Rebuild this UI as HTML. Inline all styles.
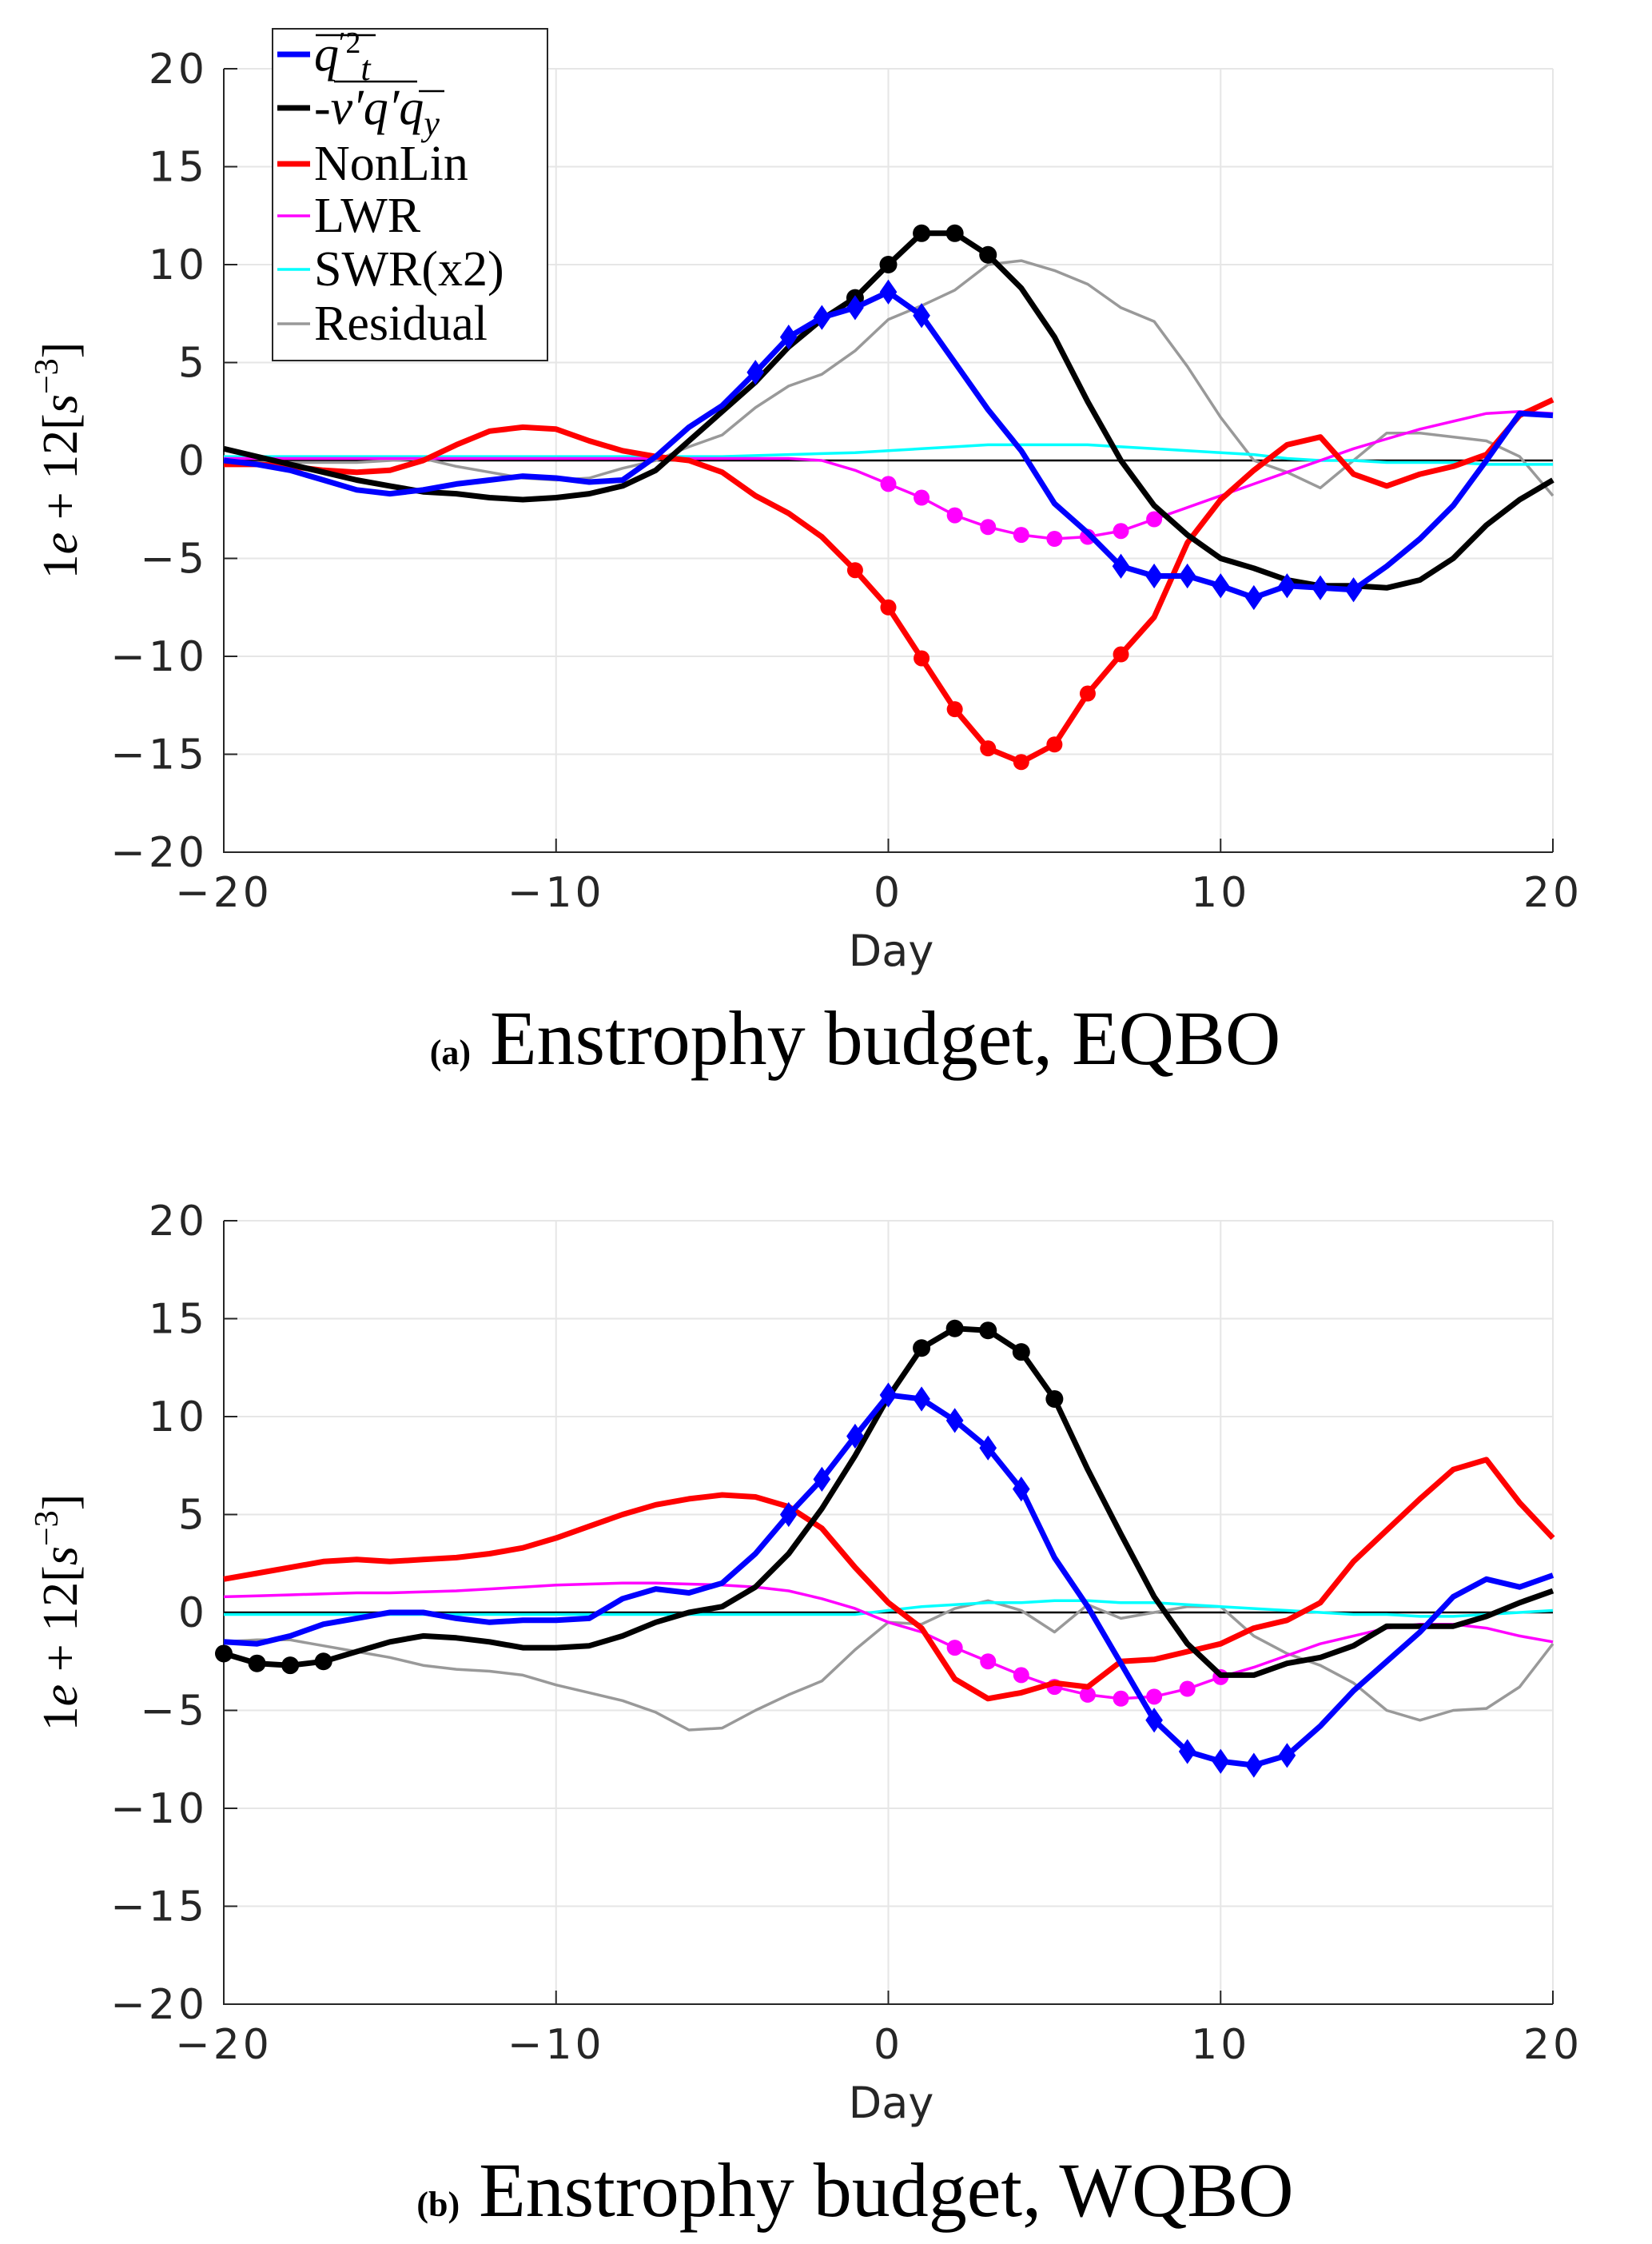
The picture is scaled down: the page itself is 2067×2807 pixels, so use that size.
<!DOCTYPE html>
<html><head><meta charset="utf-8"><style>
html,body{margin:0;padding:0;background:#fff;}
svg{display:block;}
.tick{font-family:"DejaVu Sans","Liberation Sans",sans-serif;font-size:52px;fill:#262626;letter-spacing:4px;}
.lab{font-family:"DejaVu Sans","Liberation Sans",sans-serif;font-size:54px;fill:#262626;}
.ser{font-family:"Liberation Serif","DejaVu Serif",serif;fill:#000;}
</style></head><body>
<svg id="chart" width="2067" height="2807" viewBox="0 0 2067 2807" xmlns="http://www.w3.org/2000/svg"></svg>
<script>
const days = [-20,-19,-18,-17,-16,-15,-14,-13,-12,-11,-10,-9,-8,-7,-6,-5,-4,-3,-2,-1,0,1,2,3,4,5,6,7,8,9,10,11,12,13,14,15,16,17,18,19,20];
const xTicks = [-20,-10,0,10,20];
const yTicks = [-20,-15,-10,-5,0,5,10,15,20];
// Panel (a) EQBO
const aTend = [0,-0.2,-0.5,-1.0,-1.5,-1.7,-1.5,-1.2,-1.0,-0.8,-0.9,-1.1,-1.0,0.2,1.7,2.8,4.5,6.3,7.3,7.8,8.6,7.4,5.0,2.6,0.5,-2.2,-3.7,-5.4,-5.9,-5.9,-6.4,-7.0,-6.4,-6.5,-6.6,-5.4,-4.0,-2.3,0,2.4,2.3];
const aFlux = [0.6,0.2,-0.2,-0.6,-1.0,-1.3,-1.6,-1.7,-1.9,-2.0,-1.9,-1.7,-1.3,-0.5,1.0,2.5,4.0,5.8,7.2,8.3,10.0,11.6,11.6,10.5,8.8,6.3,3.0,0,-2.3,-3.8,-5.0,-5.5,-6.1,-6.4,-6.4,-6.5,-6.1,-5.0,-3.3,-2.0,-1.0];
const aNonLin = [-0.2,-0.2,-0.3,-0.5,-0.6,-0.5,0,0.8,1.5,1.7,1.6,1.0,0.5,0.2,0,-0.6,-1.8,-2.7,-3.9,-5.6,-7.5,-10.1,-12.7,-14.7,-15.4,-14.5,-11.9,-9.9,-8.0,-4.2,-2.0,-0.5,0.8,1.2,-0.7,-1.3,-0.7,-0.3,0.3,2.3,3.1];
const aLWR = [0.1,0.1,0.1,0.1,0.1,0.1,0.1,0.1,0.1,0.1,0.1,0.1,0.1,0.1,0.1,0.1,0.1,0.1,0,-0.5,-1.2,-1.9,-2.8,-3.4,-3.8,-4.0,-3.9,-3.6,-3.0,-2.4,-1.8,-1.2,-0.6,0,0.6,1.1,1.6,2.0,2.4,2.5,2.4];
const aSWR = [0.2,0.2,0.2,0.2,0.2,0.2,0.2,0.2,0.2,0.2,0.2,0.2,0.2,0.2,0.2,0.2,0.25,0.3,0.35,0.4,0.5,0.6,0.7,0.8,0.8,0.8,0.8,0.7,0.6,0.5,0.4,0.3,0.1,0,0,-0.1,-0.1,-0.1,-0.2,-0.2,-0.2];
const aResid = [-0.1,-0.1,-0.1,-0.1,-0.1,0,0.1,-0.3,-0.6,-0.9,-1.0,-0.9,-0.4,0,0.7,1.3,2.7,3.8,4.4,5.6,7.2,7.9,8.7,10.0,10.2,9.7,9.0,7.8,7.1,4.8,2.2,0,-0.6,-1.4,0,1.4,1.4,1.2,1.0,0.2,-1.8];
// Panel (b) WQBO
const bTend = [-1.5,-1.6,-1.2,-0.6,-0.3,0,0,-0.3,-0.5,-0.4,-0.4,-0.3,0.7,1.2,1.0,1.5,3.0,5.0,6.8,9.0,11.1,10.9,9.8,8.4,6.3,2.8,0.3,-2.6,-5.5,-7.1,-7.6,-7.8,-7.3,-5.8,-4.0,-2.5,-1.0,0.8,1.7,1.3,1.9];
const bFlux = [-2.1,-2.6,-2.7,-2.5,-2.0,-1.5,-1.2,-1.3,-1.5,-1.8,-1.8,-1.7,-1.2,-0.5,0,0.3,1.3,3.0,5.3,8.0,11.0,13.5,14.5,14.4,13.3,10.9,7.3,4.0,0.8,-1.6,-3.2,-3.2,-2.6,-2.3,-1.7,-0.7,-0.7,-0.7,-0.2,0.5,1.1];
const bNonLin = [1.7,2.0,2.3,2.6,2.7,2.6,2.7,2.8,3.0,3.3,3.8,4.4,5.0,5.5,5.8,6.0,5.9,5.4,4.3,2.3,0.5,-0.8,-3.4,-4.4,-4.1,-3.6,-3.8,-2.5,-2.4,-2.0,-1.6,-0.8,-0.4,0.5,2.6,4.2,5.8,7.3,7.8,5.6,3.8];
const bLWR = [0.8,0.85,0.9,0.95,1.0,1.0,1.05,1.1,1.2,1.3,1.4,1.45,1.5,1.5,1.45,1.4,1.3,1.1,0.7,0.2,-0.5,-1.0,-1.8,-2.5,-3.2,-3.8,-4.2,-4.4,-4.3,-3.9,-3.3,-2.8,-2.2,-1.6,-1.2,-0.8,-0.6,-0.6,-0.8,-1.2,-1.5];
const bSWR = [-0.1,-0.1,-0.1,-0.1,-0.1,-0.1,-0.1,-0.1,-0.1,-0.1,-0.1,-0.1,-0.1,-0.1,-0.1,-0.1,-0.1,-0.1,-0.1,-0.1,0.1,0.3,0.4,0.5,0.5,0.6,0.6,0.5,0.5,0.4,0.3,0.2,0.1,0,-0.1,-0.1,-0.2,-0.2,-0.1,0,0.1];
const bResid = [-1.5,-1.4,-1.4,-1.7,-2.0,-2.3,-2.7,-2.9,-3.0,-3.2,-3.7,-4.1,-4.5,-5.1,-6.0,-5.9,-5.0,-4.2,-3.5,-1.9,-0.5,-0.6,0.2,0.6,0.1,-1.0,0.4,-0.3,0,0.3,0.3,-1.2,-2.1,-2.7,-3.6,-5.0,-5.5,-5.0,-4.9,-3.8,-1.6];
// marker day lists
const aTendMk=[-4,-3,-2,-1,0,1,7,8,9,10,11,12,13,14];
const aFluxMk=[-1,0,1,2,3];
const aNonMk=[-1,0,1,2,3,4,5,6,7];
const aLwrMk=[0,1,2,3,4,5,6,7,8];
const bTendMk=[-3,-2,-1,0,1,2,3,4,8,9,10,11,12];
const bFluxMk=[-20,-19,-18,-17,1,2,3,4,5];
const bLwrMk=[2,3,4,5,6,7,8,9,10];

const NS="http://www.w3.org/2000/svg";
const svg=document.getElementById('chart');
function mk(tag,attrs,parent){const e=document.createElementNS(NS,tag);for(const k in attrs)e.setAttribute(k,attrs[k]);(parent||svg).appendChild(e);return e;}
const X0=280,X1=1943,PH=980;
function xs(d){return X0+(d+20)/40*(X1-X0);}

function panel(top,series,pname,caption,capLetter){
  const g=mk('g',{});
  
  
  const Y0=top,Y1=top+PH;
  const ys=v=>Y0+(20-v)/40*(Y1-Y0);
  xTicks.forEach(t=>{const l=mk('line',{x1:xs(t),x2:xs(t),y1:Y0,y2:Y1,stroke:'#e6e6e6','stroke-width':2},g);
    });
  yTicks.forEach(t=>{const l=mk('line',{x1:X0,x2:X1,y1:ys(t),y2:ys(t),stroke:'#e6e6e6','stroke-width':2},g);
    });
  const ax=mk('path',{d:`M${X0},${Y0} V${Y1} H${X1}`,fill:'none',stroke:'#262626','stroke-width':2},g);
  
  xTicks.forEach(t=>{mk('line',{x1:xs(t),x2:xs(t),y1:Y1,y2:Y1-17,stroke:'#262626','stroke-width':2},g);
    const tx=mk('text',{x:xs(t),y:Y1+68,'text-anchor':'middle',class:'tick'},g);tx.textContent=String(t).replace('-','\u2212');
    });
  yTicks.forEach(t=>{mk('line',{x1:X0,x2:X0+17,y1:ys(t),y2:ys(t),stroke:'#262626','stroke-width':2},g);
    const tx=mk('text',{x:X0-20,y:ys(t)+18,'text-anchor':'end',class:'tick'},g);tx.textContent=String(t).replace('-','\u2212');
    });
  const z=mk('line',{x1:X0,x2:X1,y1:ys(0),y2:ys(0),stroke:'#000','stroke-width':2.5},g);
  
  series.forEach(s=>{
    const d=s.vals.map((v,i)=>(i?'L':'M')+xs(days[i]).toFixed(1)+','+ys(v).toFixed(1)).join(' ');
    const p=mk('path',{d:d,fill:'none',stroke:s.color,'stroke-width':s.w,'stroke-linejoin':'round'},g);
    
    (s.mk||[]).forEach(dd=>{const i=days.indexOf(dd);const cx=xs(dd),cy=ys(s.vals[i]);let m;
      if(s.shape==='dia'){m=mk('path',{d:`M${cx},${cy-13} L${cx+9},${cy} L${cx},${cy+13} L${cx-9},${cy} Z`,fill:s.color,stroke:s.color,'stroke-width':3},g);}
      else{m=mk('circle',{cx:cx,cy:cy,r:s.r||10,fill:s.color},g);}
      });
  });
  const xl=mk('text',{x:1115,y:Y1+142,'text-anchor':'middle',class:'lab'},g);xl.textContent='Day';
  
  const yl=mk('text',{x:0,y:0,'text-anchor':'middle',class:'ser','font-size':62,transform:`translate(96,${(Y0+Y1)/2}) rotate(-90)`},g);
  yl.innerHTML='1<tspan font-style="italic">e</tspan> + 12[<tspan font-style="italic">s</tspan><tspan dy="-24" font-size="42">−3</tspan><tspan dy="24">]</tspan>';
  
  const cp=mk('text',{x:1070,y:Y1+265,'text-anchor':'middle',class:'ser','font-size':96},g);
  cp.innerHTML=`<tspan font-size="44" font-weight="bold">(${capLetter})</tspan> ${caption}`;
  
}
panel(86,[
 {name:'residual-line',vals:aResid,color:'#999999',w:3.5},
 {name:'swr-line',vals:aSWR,color:'#00ffff',w:3.5},
 {name:'lwr-line',vals:aLWR,color:'#ff00ff',w:3.5,mk:aLwrMk,r:10},
 {name:'nonlin-line',vals:aNonLin,color:'#ff0000',w:7,mk:aNonMk,r:10},
 {name:'flux-line',vals:aFlux,color:'#000000',w:7,mk:aFluxMk,r:11},
 {name:'tendency-line',vals:aTend,color:'#0000ff',w:7,mk:aTendMk,shape:'dia'}
],'panel-a-eqbo','Enstrophy budget, EQBO','a');
panel(1527,[
 {name:'residual-line',vals:bResid,color:'#999999',w:3.5},
 {name:'swr-line',vals:bSWR,color:'#00ffff',w:3.5},
 {name:'lwr-line',vals:bLWR,color:'#ff00ff',w:3.5,mk:bLwrMk,r:10},
 {name:'nonlin-line',vals:bNonLin,color:'#ff0000',w:7},
 {name:'flux-line',vals:bFlux,color:'#000000',w:7,mk:bFluxMk,r:11},
 {name:'tendency-line',vals:bTend,color:'#0000ff',w:7,mk:bTendMk,shape:'dia'}
],'panel-b-wqbo','Enstrophy budget, WQBO','b');

// legend
const lg=mk('g',{});


mk('rect',{x:341,y:36,width:344,height:415,fill:'#fff',stroke:'#262626','stroke-width':2},lg);
const entries=[
 {c:'#0000ff',w:7,y:88,html:'<tspan font-style="italic">q</tspan><tspan font-size="38" dy="-22">′2</tspan><tspan font-style="italic" font-size="44" dy="34">t</tspan>'},
 {c:'#000000',w:7,y:155,html:'-<tspan font-style="italic">v′q′q</tspan><tspan font-style="italic" font-size="44" dy="14">y</tspan>'},
 {c:'#ff0000',w:7,y:225,html:'NonLin'},
 {c:'#ff00ff',w:3.5,y:290,html:'LWR'},
 {c:'#00ffff',w:3.5,y:357,html:'SWR(x2)'},
 {c:'#999999',w:3.5,y:425,html:'Residual'}];
entries.forEach(e=>{
  const ln=mk('line',{x1:347,x2:388,y1:e.y-20,y2:e.y-20,stroke:e.c,'stroke-width':e.w},lg);
  
  const t=mk('text',{x:393,y:e.y,class:'ser','font-size':62},lg);t.innerHTML=e.html;
  
});
mk('line',{x1:395,x2:470,y1:44,y2:44,stroke:'#000','stroke-width':2.5},lg);
mk('line',{x1:418,x2:522,y1:102,y2:102,stroke:'#000','stroke-width':2.5},lg);
mk('line',{x1:524,x2:556,y1:114,y2:114,stroke:'#000','stroke-width':2.5},lg);
</script>
</body></html>
